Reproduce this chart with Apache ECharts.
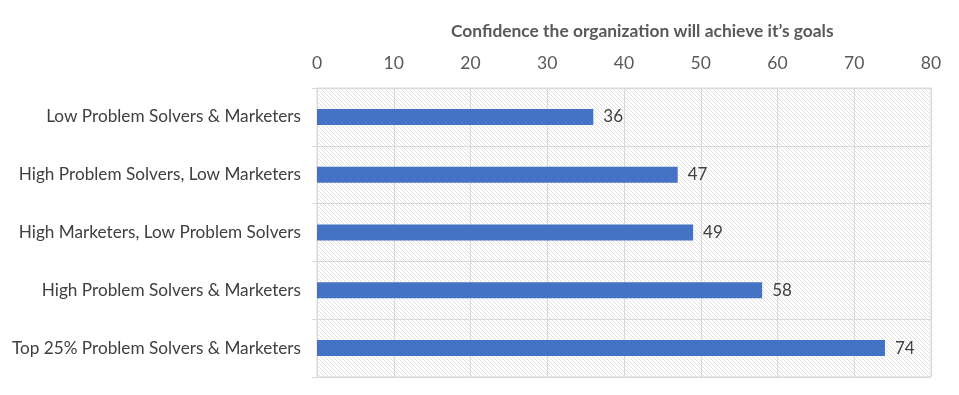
<!DOCTYPE html>
<html><head><meta charset="utf-8">
<script src="https://cdn.jsdelivr.net/npm/echarts@6/dist/echarts.min.js"></script>
<style>html,body{margin:0;padding:0;background:#fff}#c{width:959px;height:395px}</style>
</head><body><div id="c"></div>
<script>
const categories = ["Low Problem Solvers & Marketers","High Problem Solvers, Low Marketers","High Marketers, Low Problem Solvers","High Problem Solvers & Marketers","Top 25% Problem Solvers & Marketers"];
const values = [36, 47, 49, 58, 74];
const titleText = "Confidence the organization will achieve it\u2019s goals";

const pc = document.createElement('canvas');
pc.width = 4; pc.height = 4;
const g = pc.getContext('2d');
g.fillStyle = '#ffffff'; g.fillRect(0,0,4,4);
g.strokeStyle = '#e2e2e2'; g.lineWidth = 1;
g.beginPath(); g.moveTo(-1,-1); g.lineTo(5,5); g.moveTo(-1,3); g.lineTo(1,5); g.moveTo(3,-1); g.lineTo(5,1); g.stroke();

const chart = echarts.init(document.getElementById('c'), null, {renderer:'canvas'});
const font = "Lato, 'Open Sans', sans-serif";
chart.setOption({
  animation:false,
  title:{text:titleText, left:446, top:18, textStyle:{fontFamily:font, fontSize:17.4, fontWeight:'bold', color:'#595959'}},
  grid:{left:317, right:28, top:88, bottom:18, show:true, backgroundColor:{image:pc, repeat:'repeat'}, borderColor:'#d9d9d9', borderWidth:1},
  xAxis:{type:'value', position:'top', min:0, max:80, interval:10,
    axisLine:{show:false}, axisTick:{show:false},
    splitLine:{lineStyle:{color:'#d9d9d9', width:1}},
    axisLabel:{fontFamily:font, fontSize:17.5, color:'#595959', margin:16}},
  yAxis:{type:'category', inverse:true, data:categories,
    axisLine:{lineStyle:{color:'#d9d9d9'}},
    axisTick:{show:true, length:5, lineStyle:{color:'#d9d9d9'}},
    splitLine:{show:true, lineStyle:{color:'#d9d9d9'}},
    axisLabel:{fontFamily:font, fontSize:17.2, color:'#404040', margin:16}},
  series:[{type:'bar', data:values, barWidth:16, itemStyle:{color:'#4472C4'},
    label:{show:true, position:'right', distance:10, fontFamily:font, fontSize:17, color:'#404040'}}]
});
</script></body></html>
